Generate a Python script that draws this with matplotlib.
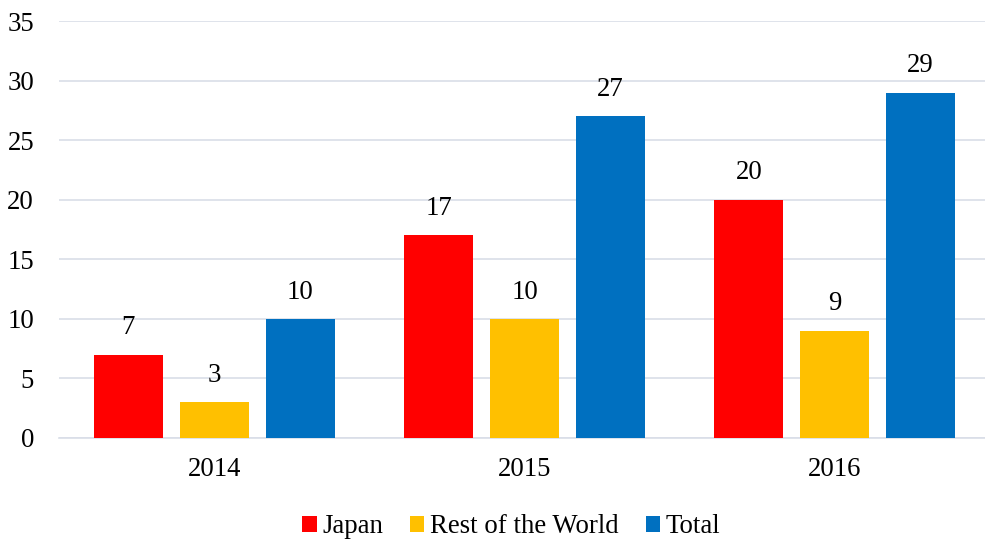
import numpy as np
import matplotlib.pyplot as plt

# Chart data
years = ['2014', '2015', '2016']
japan = [7, 17, 20]
rest_of_world = [3, 10, 9]
total = [10, 27, 29]

series_names = ['Japan', 'Rest of the World', 'Total']
colors = ['#FF0000', '#FFC000', '#0070C0']

plt.rcParams['font.family'] = ['Liberation Serif', 'DejaVu Serif']
fs = 19.3

fig = plt.figure(figsize=(9.85, 5.4), dpi=100)
ax = fig.add_axes([0.060, 0.189, 0.945, 0.772])

x = np.arange(len(years))
width = 0.222
offsets = [-0.277, 0, 0.277]

for vals, name, col, off in zip([japan, rest_of_world, total], series_names, colors, offsets):
    bars = ax.bar(x + off, vals, width, color=col, label=name, zorder=3)
    for b, v in zip(bars, vals):
        ax.text(b.get_x() + b.get_width() / 2, v + 1.2, str(v),
                ha='center', va='bottom', fontsize=fs)

ax.set_xlim(-0.5, 2.5)
ax.set_ylim(0, 35)
ax.set_yticks(range(0, 36, 5))
ax.set_xticks(x)
ax.set_xticklabels(years)
ax.tick_params(axis='both', length=0, labelsize=fs)
ax.tick_params(axis='x', pad=14)
ax.tick_params(axis='y', pad=18)

ax.grid(axis='y', color='#D9DEE8', linewidth=1.2, zorder=0)
for s in ['top', 'right', 'left']:
    ax.spines[s].set_visible(False)
ax.spines['bottom'].set_color('#D9DEE8')
ax.spines['bottom'].set_linewidth(1.2)

ax.legend(loc='upper center', bbox_to_anchor=(0.486, -0.125), ncol=3, frameon=False,
          fontsize=fs, handlelength=0.53, handleheight=0.53, handletextpad=0.22,
          columnspacing=1.0)

plt.savefig('out.png', dpi=100)
